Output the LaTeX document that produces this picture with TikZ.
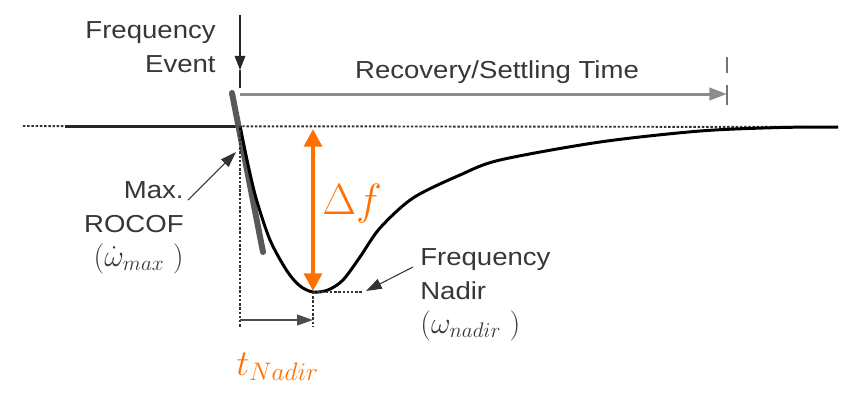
\documentclass[tikz,border=0pt]{standalone}
\usepackage{fontspec}
\setmainfont{Liberation Sans}
\newfontfamily\lblfont[FakeStretch=1.12]{Liberation Sans}
\usetikzlibrary{arrows.meta}
\definecolor{dfcol}{RGB}{255,112,0}
\definecolor{txtcol}{RGB}{55,55,55}
\newcommand\bigmath[1]{{\fontsize{17}{19.3}\selectfont$#1$}}
\begin{document}
\begin{tikzpicture}[x=0.02cm,y=-0.02cm,
  lbl/.style={font=\lblfont\fontsize{14}{19.3}\selectfont,text=txtcol,inner sep=0pt},
  dotline/.style={line width=1.1pt,black!80,dash pattern=on 1.4pt off 1pt},
  thinarrow/.style={line width=0.6pt,black!80,-{Triangle[length=9pt,width=6pt]}},
  curve/.style={line width=1.7pt,black}]
  \useasboundingbox (0,0) rectangle (845,397);
  % points of the response
  \coordinate (bl) at (23,126);  \coordinate (solidL) at (65,126);
  \coordinate (ev) at (240,126); \coordinate (br) at (838,127);
  \coordinate (nad) at (313,292);
  % baseline : dotted reference, solid pre-event frequency
  \draw[dotline] (bl) -- (br);
  \draw[line width=1.7pt,black!85] (solidL) -- (ev);
  % frequency event marker
  \coordinate (evtop) at (240,15); \coordinate (evtip) at (240,70);
  \coordinate (evbot) at (240,88);
  \draw[line width=0.8pt,black!85,-{Triangle[length=8pt,width=6pt]}] (evtop) -- (evtip);
  \draw[line width=0.8pt,black!85] (evtip) -- (evbot);
  \node[lbl,align=right,anchor=base east] (evlbl) at (216,72) {Frequency\\Event};
  % recovery / settling time
  \coordinate (rs) at (240,94); \coordinate (re) at (727,94);
  \draw[line width=1.7pt,black!45,-{Triangle[length=10pt,width=7pt]}] (rs) -- (re);
  \draw[line width=1.2pt,black!55] (727,85) -- (727,105) (727,57) -- (727,73);
  \node[lbl,anchor=base] (reclbl) at (497,78) {Recovery/Settling Time};
  % max. rocof tangent
  \coordinate (tanA) at (232,93); \coordinate (tanB) at (263,252);
  \draw[line width=3.4pt,black!65,line cap=round] (tanA) -- (tanB);
  % frequency trace
  \draw[curve] plot[smooth] coordinates {(ev) (247,160) (256,198) (270,240) (287,271)
    (300,286) (nad) (328,290) (343,280) (360,257) (380,228) (413,198) (460,175)
    (500,160) (600,142) (700,131) (780,127.5) (br)};
  % dotted guides to the nadir
  \coordinate (tb) at (240,327); \coordinate (tn) at (313,327);
  \coordinate (nadR) at (363,292);
  \draw[dotline] (ev) -- (tb);
  \draw[dotline] (nad) -- (tn);
  \draw[dotline] (nad) -- (nadR);
  % time to nadir
  \coordinate (tA) at (240,320); \coordinate (tB) at (313,320);
  \draw[line width=1.1pt,black!70,-{Triangle[length=9pt,width=6pt]}] (tA) -- (tB);
  \node[anchor=base west,inner sep=0pt,text=dfcol,font=\fontsize{20}{24}\selectfont]
    (tlbl) at (236,375) {$t_{Nadir}$};
  % frequency deviation
  \coordinate (dfTop) at (313,129); \coordinate (dfBot) at (313,291);
  \draw[dfcol,line width=2.8pt,{Triangle[length=10pt,width=10pt]}-{Triangle[length=10pt,width=10pt]}]
    (dfTop) -- (dfBot);
  \node[anchor=base west,inner sep=0pt,text=dfcol,font=\fontsize{23}{27}\selectfont]
    (dflbl) at (322,214) {$\Delta f$};
  % rocof label
  \node[lbl,align=right,anchor=base east] (rocof) at (184,266)
    {Max.\\ROCOF\\\bigmath{(\dot{\omega}_{max}\;)}};
  \coordinate (rocofA) at (188,200); \coordinate (rocofB) at (236,152);
  \draw[thinarrow] (rocofA) -- (rocofB);
  % nadir label
  \node[lbl,align=left,anchor=base west] (nadlbl) at (420,333)
    {Frequency\\Nadir\\\bigmath{(\omega_{nadir}\;)}};
  \coordinate (nadA) at (413,267); \coordinate (nadB) at (366,291);
  \draw[thinarrow] (nadA) -- (nadB);
\end{tikzpicture}
\end{document}
